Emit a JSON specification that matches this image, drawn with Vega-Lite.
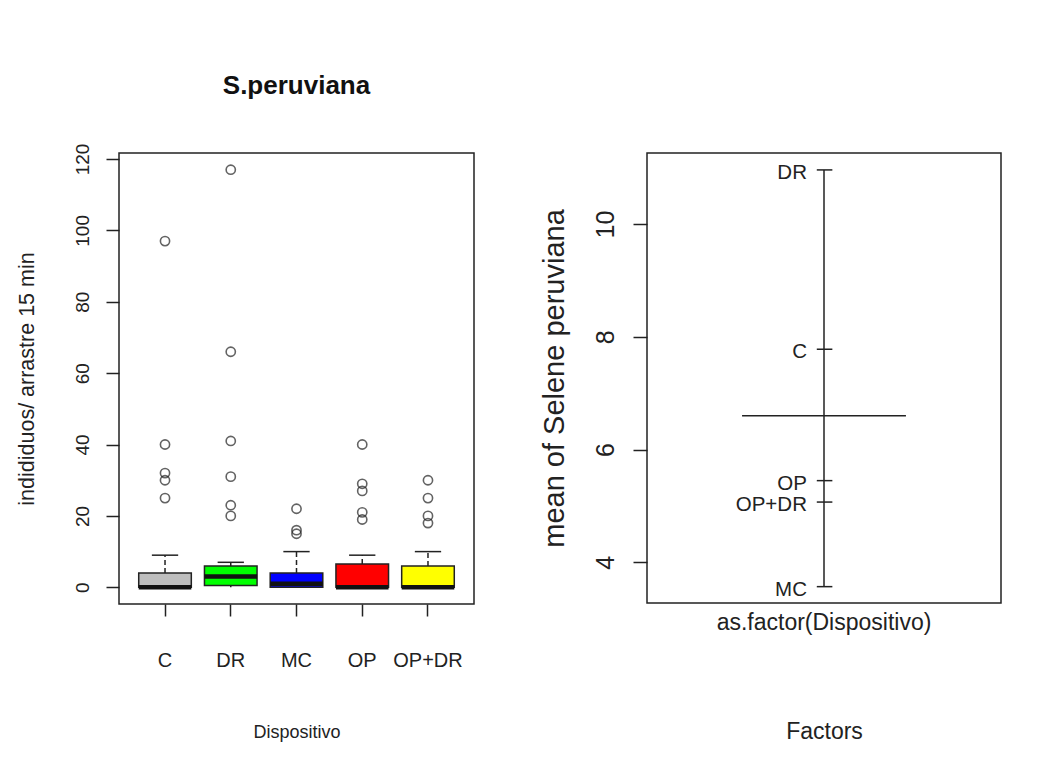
{
  "$schema": "https://vega.github.io/schema/vega-lite/v6.json",
  "padding": {"left": 15, "top": 72, "right": 0, "bottom": 0},
  "background": "white",
  "spacing": 64,
  "config": {
    "view": {"stroke": "#222", "strokeWidth": 1.5},
    "font": "Liberation Sans",
    "axis": {"domain": false, "grid": false, "tickColor": "#222", "tickWidth": 1.5, "labelColor": "#222", "titleColor": "#222", "titleFontWeight": "normal", "labelLimit": 0}
  },
  "datasets": {
    "boxes": [
      {"group": "C", "lower": 0, "q1": 0, "median": 0, "q3": 4, "upper": 9},
      {"group": "DR", "lower": 0, "q1": 0.5, "median": 3, "q3": 6, "upper": 7},
      {"group": "MC", "lower": 0, "q1": 0, "median": 1, "q3": 4, "upper": 10},
      {"group": "OP", "lower": 0, "q1": 0, "median": 0, "q3": 6.5, "upper": 9},
      {"group": "OP+DR", "lower": 0, "q1": 0, "median": 0, "q3": 6, "upper": 10}
    ],
    "outliers": [
      {"group": "C", "value": 97}, {"group": "C", "value": 40}, {"group": "C", "value": 32}, {"group": "C", "value": 30}, {"group": "C", "value": 25},
      {"group": "DR", "value": 117}, {"group": "DR", "value": 66}, {"group": "DR", "value": 41}, {"group": "DR", "value": 31}, {"group": "DR", "value": 23}, {"group": "DR", "value": 20},
      {"group": "MC", "value": 22}, {"group": "MC", "value": 16}, {"group": "MC", "value": 15},
      {"group": "OP", "value": 40}, {"group": "OP", "value": 29}, {"group": "OP", "value": 27}, {"group": "OP", "value": 21}, {"group": "OP", "value": 19},
      {"group": "OP+DR", "value": 30}, {"group": "OP+DR", "value": 25}, {"group": "OP+DR", "value": 20}, {"group": "OP+DR", "value": 18}
    ],
    "means": [
      {"factor": "as.factor(Dispositivo)", "level": "DR", "mean": 10.96},
      {"factor": "as.factor(Dispositivo)", "level": "C", "mean": 7.78},
      {"factor": "as.factor(Dispositivo)", "level": "OP", "mean": 5.45},
      {"factor": "as.factor(Dispositivo)", "level": "OP+DR", "mean": 5.07},
      {"factor": "as.factor(Dispositivo)", "level": "MC", "mean": 3.57}
    ],
    "grand": [
      {"factor": "as.factor(Dispositivo)", "mean": 6.6}
    ]
  },
  "hconcat": [
    {
      "width": 355,
      "height": 451,
      "title": {"text": "S.peruviana", "fontSize": 26, "font": "Liberation Sans", "fontWeight": "bold", "offset": 44, "anchor": "middle", "color": "#111"},
      "layer": [
        {
          "data": {"name": "boxes"},
          "mark": {"type": "rule", "strokeDash": [5, 3], "strokeWidth": 1.5, "color": "#222"},
          "encoding": {
            "x": {
              "field": "group", "type": "nominal", "sort": null,
              "scale": {"type": "band", "paddingInner": 0.2, "paddingOuter": 0.3, "domain": ["C", "DR", "MC", "OP", "OP+DR"]},
              "axis": {"title": "Dispositivo", "labelAngle": 0, "tickSize": 12, "labelPadding": 34, "labelFontSize": 20, "titleFontSize": 18, "titlePadding": 53}
            },
            "y": {
              "field": "q3", "type": "quantitative",
              "scale": {"domain": [-4.68, 121.68], "nice": false, "zero": false},
              "axis": {"title": "indididuos/ arrastre 15 min", "values": [0, 20, 40, 60, 80, 100, 120], "format": "d", "tickSize": 13, "labelAngle": -90, "labelAlign": "center", "labelBaseline": "bottom", "labelPadding": 14, "labelFontSize": 19, "titleFontSize": 21.5, "titlePadding": 35}
            },
            "y2": {"field": "upper"}
          }
        },
        {
          "data": {"name": "boxes"},
          "mark": {"type": "rule", "strokeDash": [5, 3], "strokeWidth": 1.5, "color": "#222"},
          "encoding": {
            "x": {"field": "group", "type": "nominal", "sort": null},
            "y": {"field": "lower", "type": "quantitative"},
            "y2": {"field": "q1"}
          }
        },
        {
          "data": {"name": "boxes"},
          "mark": {"type": "rule", "strokeWidth": 1.5, "color": "#222"},
          "encoding": {
            "x": {"field": "group", "type": "nominal", "sort": null, "bandPosition": 0.25},
            "x2": {"field": "group", "bandPosition": 0.75},
            "y": {"field": "upper", "type": "quantitative"}
          }
        },
        {
          "data": {"name": "boxes"},
          "mark": {"type": "bar", "stroke": "#222", "strokeWidth": 1.5},
          "encoding": {
            "x": {"field": "group", "type": "nominal", "sort": null},
            "y": {"field": "q1", "type": "quantitative"},
            "y2": {"field": "q3"},
            "fill": {"field": "group", "type": "nominal", "legend": null, "scale": {"domain": ["C", "DR", "MC", "OP", "OP+DR"], "range": ["#bebebe", "#00ff00", "#0000ff", "#ff0000", "#ffff00"]}}
          }
        },
        {
          "data": {"name": "boxes"},
          "mark": {"type": "rule", "strokeWidth": 4.5, "color": "#111"},
          "encoding": {
            "x": {"field": "group", "type": "nominal", "sort": null, "bandPosition": 0},
            "x2": {"field": "group", "bandPosition": 1},
            "y": {"field": "median", "type": "quantitative"}
          }
        },
        {
          "data": {"name": "outliers"},
          "mark": {"type": "point", "shape": "circle", "filled": false, "size": 85, "stroke": "#222", "strokeWidth": 1.6},
          "encoding": {
            "x": {"field": "group", "type": "nominal", "sort": null},
            "y": {"field": "value", "type": "quantitative"}
          }
        }
      ]
    },
    {
      "width": 354,
      "height": 450,
      "layer": [
        {
          "data": {"name": "means"},
          "mark": {"type": "rule", "strokeWidth": 1.5, "color": "#222"},
          "encoding": {
            "x": {
              "field": "factor", "type": "nominal",
              "scale": {"type": "band", "paddingInner": 0, "paddingOuter": 0.58},
              "axis": {"title": "Factors", "labelAngle": 0, "ticks": false, "tickSize": 0, "labelPadding": 8, "labelFontSize": 23, "titleFontSize": 23, "titlePadding": 86}
            },
            "y": {
              "aggregate": "min", "field": "mean", "type": "quantitative",
              "scale": {"domain": [3.28, 11.26], "nice": false, "zero": false},
              "axis": {"title": "mean of Selene peruviana", "values": [4, 6, 8, 10], "format": "d", "tickSize": 14, "labelAngle": -90, "labelAlign": "center", "labelBaseline": "bottom", "labelPadding": 15, "labelFontSize": 25, "titleFontSize": 29, "titlePadding": 24}
            },
            "y2": {"aggregate": "max", "field": "mean"}
          }
        },
        {
          "data": {"name": "means"},
          "mark": {"type": "rule", "strokeWidth": 1.5, "color": "#222"},
          "encoding": {
            "x": {"field": "factor", "type": "nominal", "bandPosition": 0.456},
            "x2": {"field": "factor", "bandPosition": 0.551},
            "y": {"field": "mean", "type": "quantitative"}
          }
        },
        {
          "data": {"name": "means"},
          "mark": {"type": "text", "align": "right", "baseline": "middle", "dy": 3, "fontSize": 20.5, "color": "#222"},
          "encoding": {
            "x": {"field": "factor", "type": "nominal", "bandPosition": 0.396},
            "y": {"field": "mean", "type": "quantitative"},
            "text": {"field": "level"}
          }
        },
        {
          "data": {"name": "grand"},
          "mark": {"type": "rule", "strokeWidth": 1.5, "color": "#222"},
          "encoding": {
            "x": {"field": "factor", "type": "nominal", "bandPosition": 0},
            "x2": {"field": "factor", "bandPosition": 1},
            "y": {"field": "mean", "type": "quantitative"}
          }
        }
      ]
    }
  ]
}
